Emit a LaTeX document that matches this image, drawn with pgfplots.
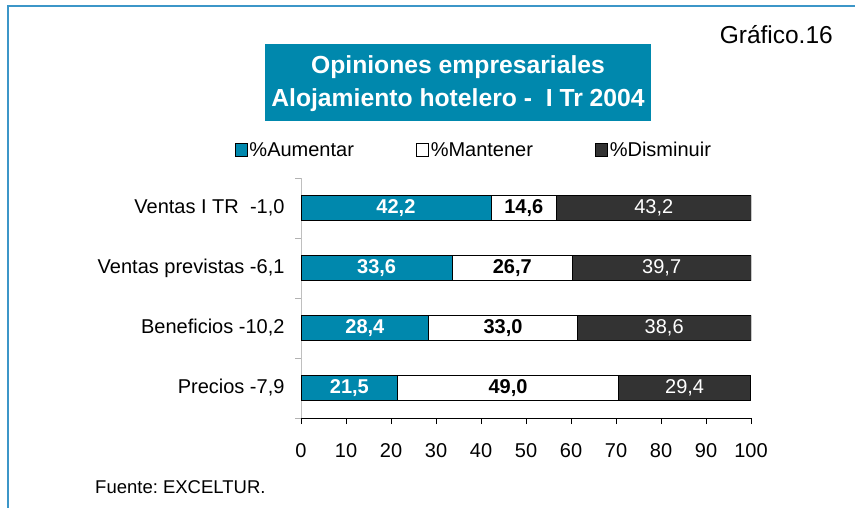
\documentclass[border=0pt]{standalone}
\usepackage{fontspec}
\setmainfont{Liberation Sans}
\usepackage{pgfplots}
\pgfplotsset{compat=1.18}
\definecolor{azul}{RGB}{0,136,173}
\definecolor{oscuro}{RGB}{51,51,51}
\definecolor{marco}{RGB}{60,150,200}
\DeclareRobustCommand\fb{\fontsize{20bp}{24bp}\selectfont\bfseries}
\DeclareRobustCommand\fn{\fontsize{20bp}{24bp}\selectfont}
\frenchspacing
\pgfplotsset{common/.style={
  at={(301bp,-418bp)}, anchor=south west,
  width=450bp, height=240bp, scale only axis,
  xmin=0, xmax=100, ymin=-0.5, ymax=3.5}}
\begin{document}
\begin{tikzpicture}[x=1bp,y=1bp]
\useasboundingbox (0,0) rectangle (855,-508);
\draw[marco, line width=1.5bp] (8,-508) -- (8,-6) -- (855,-6);
\fill[azul] (265,-44) rectangle (651,-121);
\node[anchor=base, text=white, font=\fontsize{24.7bp}{30bp}\selectfont\bfseries, inner sep=0pt] at (458,-74) {Opiniones empresariales};
\node[anchor=base, text=white, font=\fontsize{24.7bp}{30bp}\selectfont\bfseries, inner sep=0pt] at (458,-107) {Alojamiento hotelero -\ \ I Tr 2004};
\node[anchor=base east, inner sep=0pt, font=\fontsize{24.5bp}{28bp}\selectfont] at (833,-44) {Gráfico.16};
\node[anchor=base west, inner sep=0pt, font=\fontsize{18.5bp}{22bp}\selectfont] at (95,-493) {Fuente: EXCELTUR.};
\begin{axis}[
  common,
  xbar stacked, bar width=25bp,
  axis lines*=left, axis line style={-},
  x axis line style={draw=black, line width=0.8bp},
  y axis line style={draw=black!25, line width=0.8bp},
  xtick={0,10,...,100},
  ytick={0,1,2,3},
  yticklabels={{Precios -7,9},{Beneficios -10,2},{Ventas previstas -6,1},{Ventas I TR~~-1,0}},
  minor ytick={-0.5,0.5,1.5,2.5,3.5},
  tick align=outside,
  major tick length=6bp, minor tick length=6bp,
  ytick style={draw=none},
  minor y tick style={draw=black!30, line width=0.8bp},
  xtick style={draw=black, line width=0.8bp},
  tick label style={font=\fn},
  /pgf/number format/assume math mode=true,
  yticklabel style={xshift=-7bp},
  xticklabel style={yshift=-16bp},
  legend style={draw=none, fill=none, font=\fn,
    legend columns=3, at={(0.384,1.117)}, anchor=center,
    /tikz/every even column/.append style={column sep=60bp}},
  legend image code/.code={\draw[#1,draw=black,line width=0.8bp] (-4bp,-6.5bp) rectangle (8bp,6.5bp);},
  legend cell align=left,
]
\addplot[fill=azul, draw=black, line width=0.8bp] coordinates {(21.5,0) (28.4,1) (33.6,2) (42.2,3)};
\addplot[fill=white, draw=black, line width=0.8bp] coordinates {(49.0,0) (33.0,1) (26.7,2) (14.6,3)};
\addplot[fill=oscuro, draw=black, line width=0.8bp] coordinates {(29.4,0) (38.6,1) (39.7,2) (43.2,3)};
\legend{\%Aumentar,\%Mantener,\%Disminuir}
\end{axis}
\begin{axis}[common, hide axis, clip=false,
  point meta=explicit symbolic,
  nodes near coords={\pgfplotspointmeta},
  every node near coord/.style={anchor=center, inner sep=0pt}]
\addplot[draw=none, mark=none, every node near coord/.append style={font=\fb, text=white}]
  table[meta=lab] {
x y lab
21.1 3 42,2
16.8 2 33,6
14.2 1 28,4
10.75 0 21,5
};
\addplot[draw=none, mark=none, every node near coord/.append style={font=\fb, text=black}]
  table[meta=lab] {
x y lab
49.5 3 14,6
46.95 2 26,7
44.9 1 33,0
46.0 0 49,0
};
\addplot[draw=none, mark=none, every node near coord/.append style={font=\fn, text=white}]
  table[meta=lab] {
x y lab
78.4 3 43,2
80.15 2 39,7
80.7 1 38,6
85.25 0 29,4
};
\end{axis}
\end{tikzpicture}
\end{document}
